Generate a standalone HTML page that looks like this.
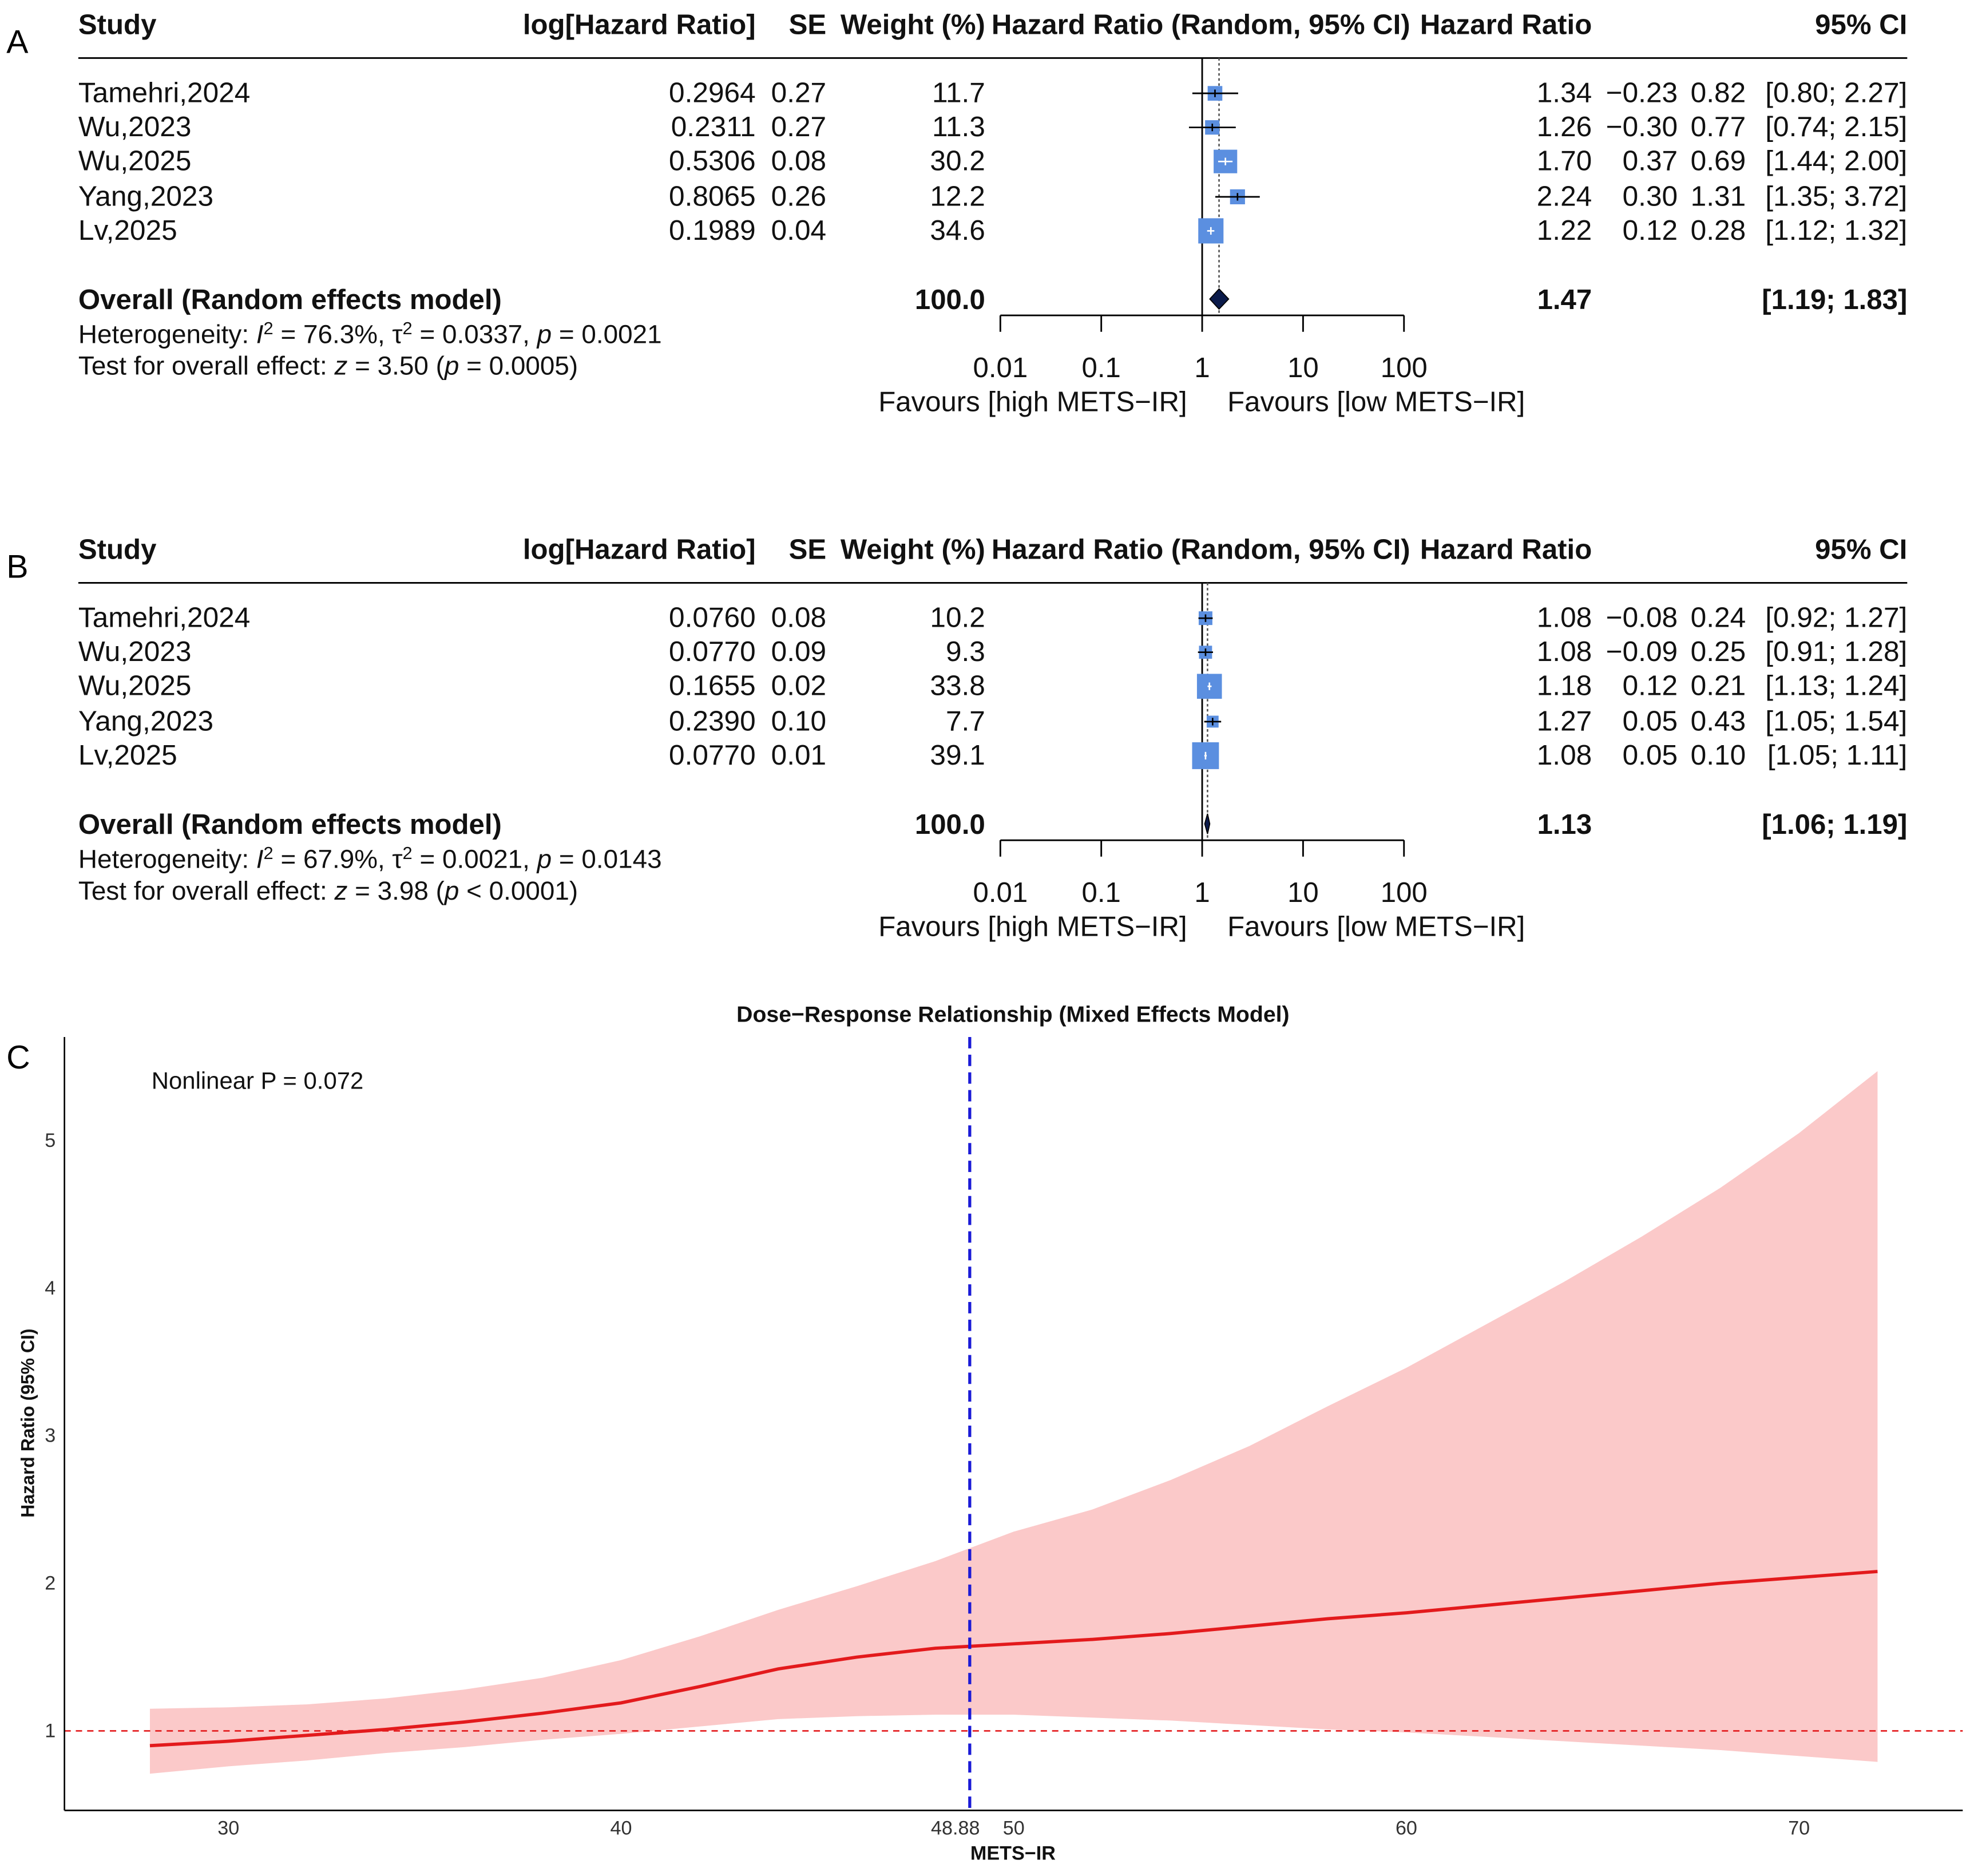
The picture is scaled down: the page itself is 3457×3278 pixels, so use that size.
<!DOCTYPE html>
<html><head><meta charset="utf-8"><style>
html,body{margin:0;padding:0;background:#fff;}
svg{display:block;font-family:"Liberation Sans",Arial,sans-serif;}
</style></head><body>
<svg id="fig" width="3457" height="3278" viewBox="0 0 1568 1487" xmlns="http://www.w3.org/2000/svg"></svg>
<script>
// ---- forest data ----
const studies = ["Tamehri,2024","Wu,2023","Wu,2025","Yang,2023","Lv,2025"];
const logHR_A = ["0.2964","0.2311","0.5306","0.8065","0.1989"];
const se_A = ["0.27","0.27","0.08","0.26","0.04"];
const weight_A = [11.7,11.3,30.2,12.2,34.6];
const hr_A = [1.34,1.26,1.70,2.24,1.22];
const lo_A = [0.80,0.74,1.44,1.35,1.12];
const hi_A = [2.27,2.15,2.00,3.72,1.32];
const cLo_A = ["−0.23","−0.30","0.37","0.30","0.12"];
const cHi_A = ["0.82","0.77","0.69","1.31","0.28"];
const overall_A = [1.47,1.19,1.83];
const logHR_B = ["0.0760","0.0770","0.1655","0.2390","0.0770"];
const se_B = ["0.08","0.09","0.02","0.10","0.01"];
const weight_B = [10.2,9.3,33.8,7.7,39.1];
const hr_B = [1.08,1.08,1.18,1.27,1.08];
const lo_B = [0.92,0.91,1.13,1.05,1.05];
const hi_B = [1.27,1.28,1.24,1.54,1.11];
const cLo_B = ["−0.08","−0.09","0.12","0.05","0.05"];
const cHi_B = ["0.24","0.25","0.21","0.43","0.10"];
const overall_B = [1.13,1.06,1.19];
const forestTicks = [0.01,0.1,1,10,100];
// ---- dose-response data ----
const doseX = [28,30,32,34,36,38,40,42,44,46,48,50,52,54,56,58,60,62,64,66,68,70,72];
const doseEst = [0.90,0.93,0.97,1.01,1.06,1.12,1.19,1.30,1.42,1.50,1.56,1.59,1.62,1.66,1.71,1.76,1.80,1.85,1.90,1.95,2.00,2.04,2.08];
const doseUpper = [1.15,1.16,1.18,1.22,1.28,1.36,1.48,1.64,1.82,1.98,2.15,2.35,2.50,2.70,2.93,3.20,3.46,3.75,4.04,4.35,4.68,5.05,5.47];
const doseLower = [0.71,0.76,0.80,0.85,0.89,0.94,0.98,1.03,1.08,1.10,1.11,1.11,1.09,1.07,1.04,1.01,0.99,0.96,0.93,0.90,0.87,0.83,0.79];
const xTicks = [30,40,50,60,70];
const yTicks = [1,2,3,4,5];
const refX = 48.88;

const NS="http://www.w3.org/2000/svg";
const svg=document.getElementById('fig');
function el(tag,attrs,parent,text){const e=document.createElementNS(NS,tag);for(const k in attrs)e.setAttribute(k,attrs[k]);if(text!==undefined)e.textContent=text;(parent||svg).appendChild(e);return e;}

function forest(off,letter,d){
  const g=el('g',{},svg);
  
  
  const px=v=>953+80*Math.log10(v);
  let t=el('text',{x:5,y:off+42,'font-size':26},g,letter);
  
  const hs={'font-size':22.3,'font-weight':'bold',fill:'#111'};
  const heads=[["Study",62,"start"],["log[Hazard Ratio]",599,"end"],["SE",655,"end"],["Weight (%)",781,"end"],["Hazard Ratio (Random, 95% CI)",786,"start"],["Hazard Ratio",1262,"end"],["95% CI",1512,"end"]];
  heads.forEach(h=>{const e=el('text',Object.assign({x:h[1],y:off+27,'text-anchor':h[2]},hs),g,h[0]);
    });
  el('line',{x1:62,x2:1512,y1:off+46,y2:off+46,stroke:'#000','stroke-width':1.3},g);
  const ys=[74,101,128,156,183];
  el('line',{x1:953,x2:953,y1:off+46,y2:off+250,stroke:'#000','stroke-width':1.3},g);
  el('line',{x1:px(d.ov[0]),x2:px(d.ov[0]),y1:off+46,y2:off+250,stroke:'#555','stroke-width':1.2,'stroke-dasharray':'2,2'},g);
  studies.forEach((s,i)=>{
    const y=off+ys[i], ty=y+7;
    const r=el('g',{},g);
    
    const ts={'font-size':22.5,fill:'#111'};
    el('text',Object.assign({x:62,y:ty},ts),r,s);
    el('text',Object.assign({x:599,y:ty,'text-anchor':'end'},ts),r,d.lhr[i]);
    el('text',Object.assign({x:655,y:ty,'text-anchor':'end'},ts),r,d.se[i]);
    el('text',Object.assign({x:781,y:ty,'text-anchor':'end'},ts),r,d.w[i].toFixed(1));
    el('text',Object.assign({x:1262,y:ty,'text-anchor':'end'},ts),r,d.hr[i].toFixed(2));
    el('text',Object.assign({x:1330,y:ty,'text-anchor':'end'},ts),r,d.cl[i]);
    el('text',Object.assign({x:1384,y:ty,'text-anchor':'end'},ts),r,d.ch[i]);
    el('text',Object.assign({x:1512,y:ty,'text-anchor':'end'},ts),r,'['+d.lo[i].toFixed(2)+'; '+d.hi[i].toFixed(2)+']');
    const sz=3.4*Math.sqrt(d.w[i]), cx=px(d.hr[i]);
    const inside = px(d.lo[i])>=cx-sz/2 && px(d.hi[i])<=cx+sz/2;
    const col = inside?'#fff':'#000';
    if(!inside) el('line',{x1:px(d.lo[i]),x2:px(d.hi[i]),y1:y,y2:y,stroke:'#000','stroke-width':1.2},r);
    const b=el('rect',{x:cx-sz/2,y:y-sz/2,width:sz,height:sz,fill:'#5b8fe0'},r);
    
    el('line',{x1:px(d.lo[i]),x2:px(d.hi[i]),y1:y,y2:y,stroke:col,'stroke-width':1.2},r);
    el('line',{x1:cx,x2:cx,y1:y-3,y2:y+3,stroke:col,'stroke-width':1.2},r);
  });
  const oy=off+237, oty=oy+8;
  const bs={'font-size':22.3,'font-weight':'bold',fill:'#111'};
  el('text',Object.assign({x:62,y:oty},bs),g,'Overall (Random effects model)');
  el('text',Object.assign({x:781,y:oty,'text-anchor':'end'},bs),g,'100.0');
  el('text',Object.assign({x:1262,y:oty,'text-anchor':'end'},bs),g,d.ov[0].toFixed(2));
  el('text',Object.assign({x:1512,y:oty,'text-anchor':'end'},bs),g,'['+d.ov[1].toFixed(2)+'; '+d.ov[2].toFixed(2)+']');
  const dm=el('polygon',{points:`${px(d.ov[1])},${oy} ${px(d.ov[0])},${oy-8} ${px(d.ov[2])},${oy} ${px(d.ov[0])},${oy+8}`,fill:'#0b1a4a',stroke:'#000','stroke-width':0.8},g);
  
  const h1=el('text',{x:62,y:off+272,'font-size':20.8,fill:'#111'},g);
  h1.innerHTML=d.het;
  const h2=el('text',{x:62,y:off+297,'font-size':20.8,fill:'#111'},g);
  h2.innerHTML=d.test;
  el('line',{x1:793,x2:1113,y1:off+250,y2:off+250,stroke:'#000','stroke-width':1.3},g);
  forestTicks.forEach(v=>{
    el('line',{x1:px(v),x2:px(v),y1:off+250,y2:off+263,stroke:'#000','stroke-width':1.3},g);
    const tl=el('text',{x:px(v),y:off+299,'font-size':22.3,'text-anchor':'middle',fill:'#111'},g,String(v));
    
  });
  el('text',{x:941,y:off+326,'font-size':22.3,'text-anchor':'end',fill:'#111'},g,'Favours [high METS−IR]');
  el('text',{x:973,y:off+326,'font-size':22.3,fill:'#111'},g,'Favours [low METS−IR]');
}
forest(0,'A',{lhr:logHR_A,se:se_A,w:weight_A,hr:hr_A,lo:lo_A,hi:hi_A,cl:cLo_A,ch:cHi_A,ov:overall_A,
 het:'Heterogeneity: <tspan font-style="italic">I</tspan><tspan dy="-7" font-size="14">2</tspan><tspan dy="7"> = 76.3%, τ</tspan><tspan dy="-7" font-size="14">2</tspan><tspan dy="7"> = 0.0337, </tspan><tspan font-style="italic">p</tspan> = 0.0021',
 test:'Test for overall effect: <tspan font-style="italic">z</tspan> = 3.50 (<tspan font-style="italic">p</tspan> = 0.0005)'});
forest(416,'B',{lhr:logHR_B,se:se_B,w:weight_B,hr:hr_B,lo:lo_B,hi:hi_B,cl:cLo_B,ch:cHi_B,ov:overall_B,
 het:'Heterogeneity: <tspan font-style="italic">I</tspan><tspan dy="-7" font-size="14">2</tspan><tspan dy="7"> = 67.9%, τ</tspan><tspan dy="-7" font-size="14">2</tspan><tspan dy="7"> = 0.0021, </tspan><tspan font-style="italic">p</tspan> = 0.0143',
 test:'Test for overall effect: <tspan font-style="italic">z</tspan> = 3.98 (<tspan font-style="italic">p</tspan> &lt; 0.0001)'});

// ---- panel C ----
const gc=el('g',{},svg);


const X=v=>181+(v-30)*31.13, Y=v=>1372-(v-1)*117;
el('text',{x:5,y:847,'font-size':26},gc,'C');
const title=el('text',{x:803,y:810,'font-size':17.8,'font-weight':'bold','text-anchor':'middle',fill:'#111'},gc,'Dose−Response Relationship (Mixed Effects Model)');

let bandPts=doseX.map((x,i)=>X(x)+','+Y(doseUpper[i]));
for(let i=doseX.length-1;i>=0;i--)bandPts.push(X(doseX[i])+','+Y(doseLower[i]));
const band=el('polygon',{points:bandPts.join(' '),fill:'#fbc9c9'},gc);

const ln=el('polyline',{points:doseX.map((x,i)=>X(x)+','+Y(doseEst[i])).join(' '),fill:'none',stroke:'#e31a1c','stroke-width':2.6},gc);

const rl=el('line',{x1:51,x2:1556,y1:Y(1),y2:Y(1),stroke:'#e31a1c','stroke-width':1.2,'stroke-dasharray':'5,4'},gc);

const vl=el('line',{x1:X(refX),x2:X(refX),y1:822,y2:1435,stroke:'#1a1ad6','stroke-width':2.4,'stroke-dasharray':'9,5'},gc);

el('line',{x1:51,x2:51,y1:822,y2:1435,stroke:'#000','stroke-width':1.2},gc);
el('line',{x1:51,x2:1556,y1:1435,y2:1435,stroke:'#000','stroke-width':1.2},gc);
xTicks.forEach(v=>{const t=el('text',{x:X(v),y:1454,'font-size':15.5,'text-anchor':'middle',fill:'#333'},gc,String(v));
 });
const rt=el('text',{x:X(refX)+8,y:1454,'font-size':15.5,'text-anchor':'end',fill:'#333'},gc,String(refX));

yTicks.forEach(v=>{const t=el('text',{x:44,y:Y(v)+5,'font-size':15.5,'text-anchor':'end',fill:'#333'},gc,String(v));
 });
const xt=el('text',{x:803,y:1474,'font-size':15.5,'font-weight':'bold','text-anchor':'middle',fill:'#111'},gc,'METS−IR');

const yt=el('text',{x:0,y:0,'font-size':14.5,'font-weight':'bold','text-anchor':'middle',fill:'#111',transform:'translate(27,1128) rotate(-90)'},gc,'Hazard Ratio (95% CI)');

const np=el('text',{x:120,y:863,'font-size':19,fill:'#111'},gc,'Nonlinear P = 0.072');

</script>
</body></html>
